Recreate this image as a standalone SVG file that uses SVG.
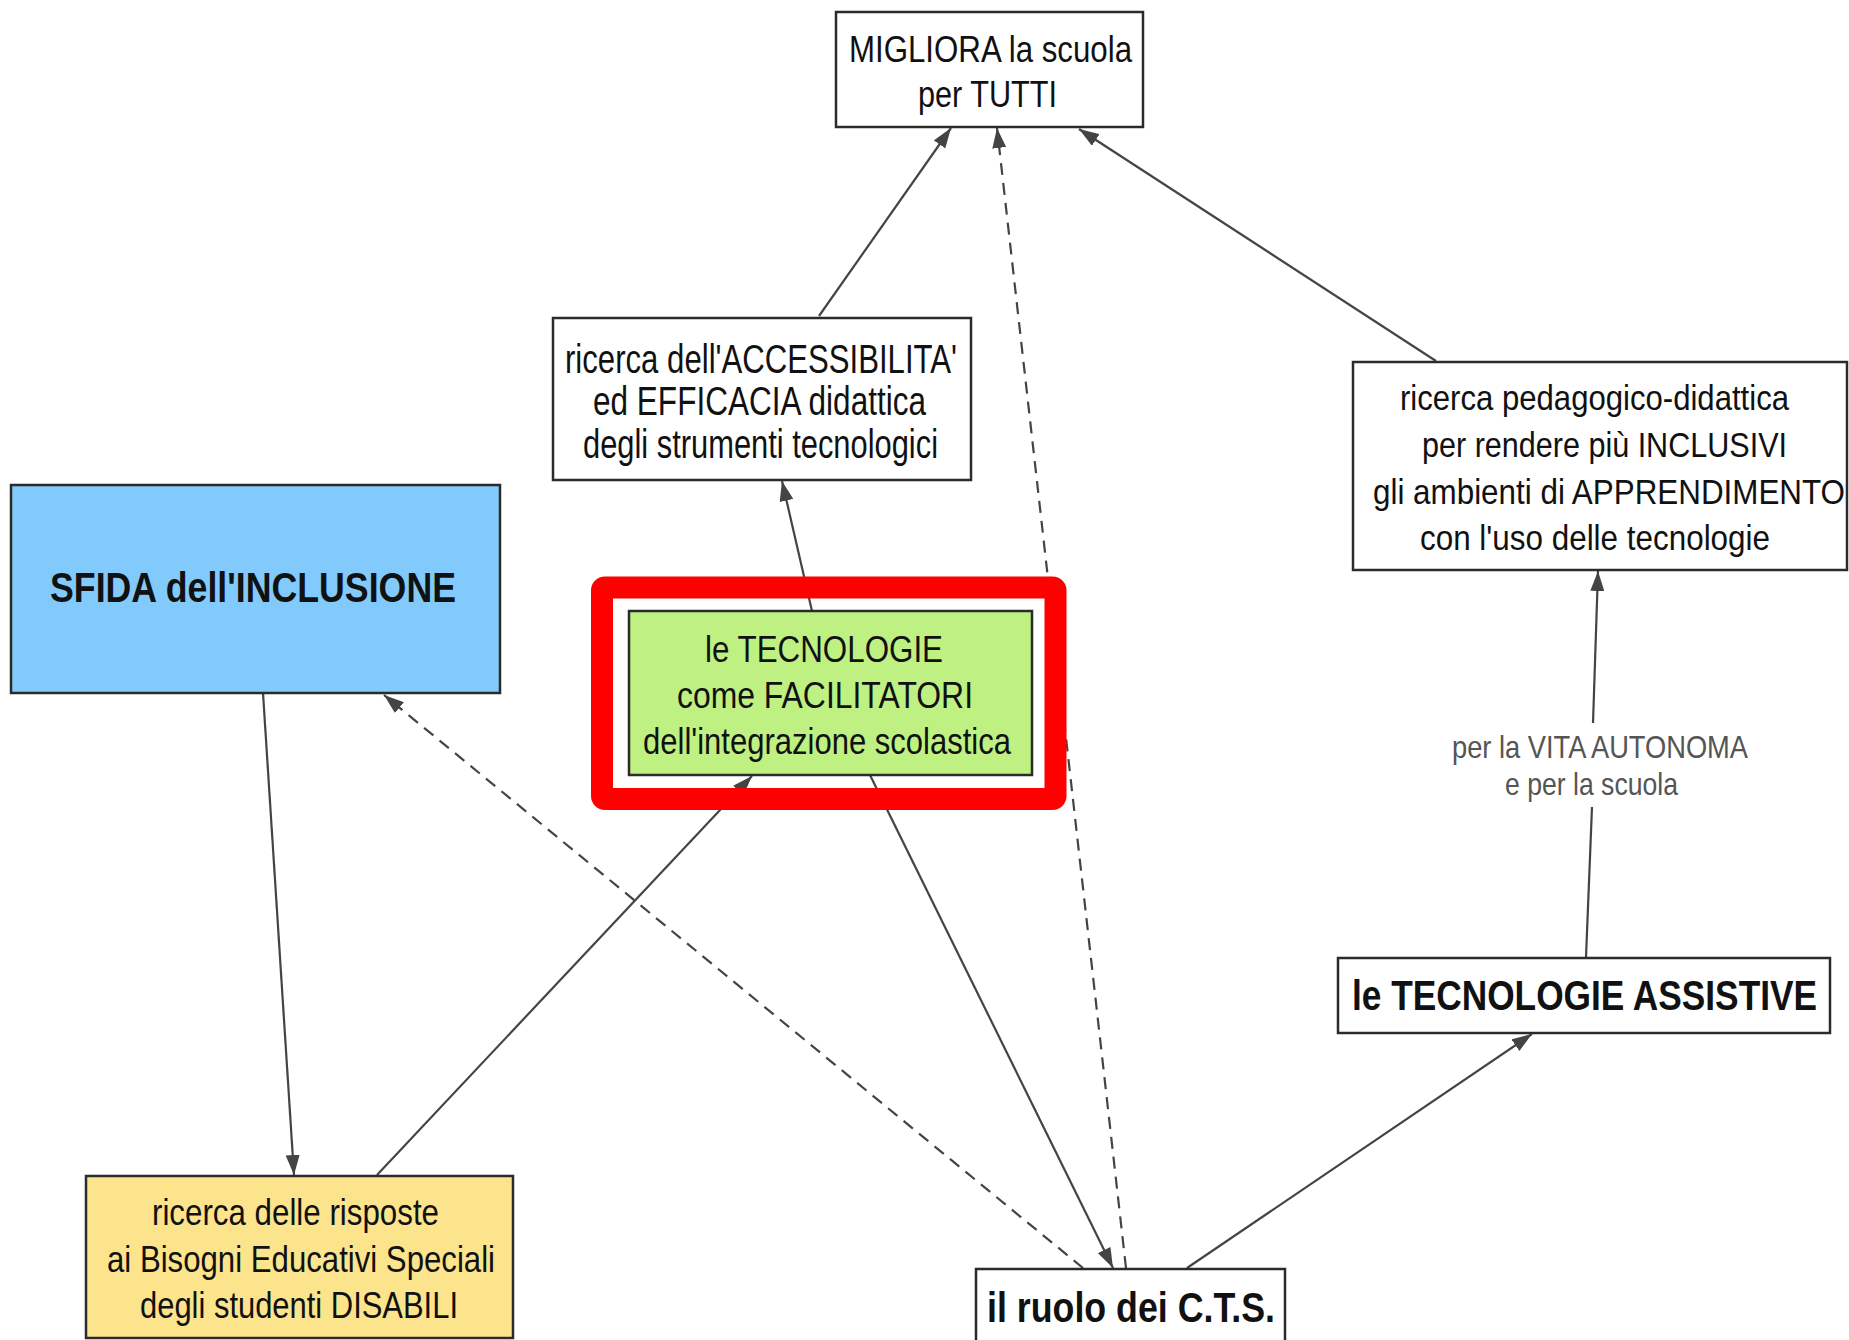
<svg xmlns="http://www.w3.org/2000/svg" width="1849" height="1340" viewBox="0 0 1849 1340">
<defs>
<style>
.box{stroke:#2b2b2b;stroke-width:2.5}
.t{font-family:"Liberation Sans",Arial,sans-serif;font-size:37px;fill:#111}
.b{font-family:"Liberation Sans",Arial,sans-serif;font-size:42px;font-weight:bold;fill:#111}
.lbl{font-family:"Liberation Sans",Arial,sans-serif;font-size:32px;fill:#555}
.c{stroke:#444;stroke-width:2.2;fill:none}
.d{stroke-dasharray:12 8}
</style>
<marker id="ah" markerUnits="userSpaceOnUse" markerWidth="20" markerHeight="14" refX="20" refY="7" orient="auto">
<path d="M0,0 L20,7 L0,14 z" fill="#444"/>
</marker>
</defs>
<rect width="1849" height="1340" fill="#fff"/>
<g id="connectors">
<line class="c" x1="819" y1="316" x2="951" y2="128" marker-end="url(#ah)"/>
<line class="c d" x1="1126" y1="1268" x2="997" y2="128" marker-end="url(#ah)"/>
<line class="c" x1="1436" y1="361" x2="1079" y2="129" marker-end="url(#ah)"/>
<line class="c" x1="812" y1="611" x2="782" y2="481" marker-end="url(#ah)"/>
<line class="c" x1="870" y1="775" x2="1113" y2="1268" marker-end="url(#ah)"/>
<line class="c" x1="377" y1="1175" x2="752" y2="776" marker-end="url(#ah)"/>
<line class="c" x1="263" y1="693" x2="294" y2="1175" marker-end="url(#ah)"/>
<line class="c d" x1="1083" y1="1268" x2="384" y2="695" marker-end="url(#ah)"/>
<line class="c" x1="1187" y1="1268" x2="1532" y2="1034" marker-end="url(#ah)"/>
<line class="c" x1="1586" y1="957" x2="1592" y2="807"/>
<line class="c" x1="1593" y1="723" x2="1598" y2="571" marker-end="url(#ah)"/>
<text class="lbl" x="1452" y="758" textLength="296" lengthAdjust="spacingAndGlyphs">per la VITA AUTONOMA</text>
<text class="lbl" x="1505" y="795" textLength="173" lengthAdjust="spacingAndGlyphs">e per la scuola</text>
</g>
<g id="migliora">
<rect class="box" x="836" y="12" width="307" height="115" fill="#fff"/>
<text class="t" x="849" y="62" textLength="283" lengthAdjust="spacingAndGlyphs">MIGLIORA la scuola</text>
<text class="t" x="918" y="107" textLength="139" lengthAdjust="spacingAndGlyphs">per TUTTI</text>
</g>
<g id="accessibilita">
<rect class="box" x="553" y="318" width="418" height="162" fill="#fff"/>
<text class="t" style="font-size:40px" x="565" y="373" textLength="392" lengthAdjust="spacingAndGlyphs">ricerca dell'ACCESSIBILITA'</text>
<text class="t" style="font-size:40px" x="593" y="415" textLength="333" lengthAdjust="spacingAndGlyphs">ed EFFICACIA didattica</text>
<text class="t" style="font-size:40px" x="583" y="458" textLength="355" lengthAdjust="spacingAndGlyphs">degli strumenti tecnologici</text>
</g>
<g id="pedagogico">
<rect class="box" x="1353" y="362" width="494" height="208" fill="#fff"/>
<text class="t" style="font-size:35px" x="1400" y="410" textLength="389" lengthAdjust="spacingAndGlyphs">ricerca pedagogico-didattica</text>
<text class="t" style="font-size:35px" x="1422" y="457" textLength="365" lengthAdjust="spacingAndGlyphs">per rendere più INCLUSIVI</text>
<text class="t" style="font-size:35px" x="1373" y="504" textLength="472" lengthAdjust="spacingAndGlyphs">gli ambienti di APPRENDIMENTO</text>
<text class="t" style="font-size:35px" x="1420" y="550" textLength="350" lengthAdjust="spacingAndGlyphs">con l'uso delle tecnologie</text>
</g>
<g id="sfida">
<rect class="box" x="11" y="485" width="489" height="208" fill="#82CAFC"/>
<text class="b" x="50" y="602" textLength="406" lengthAdjust="spacingAndGlyphs">SFIDA dell'INCLUSIONE</text>
</g>
<g id="tecnologie-facilitatori">
<rect class="box" x="629" y="611" width="403" height="164" fill="#BEF082"/>
<text class="t" style="font-size:36px" x="705" y="662" textLength="238" lengthAdjust="spacingAndGlyphs">le TECNOLOGIE</text>
<text class="t" style="font-size:36px" x="677" y="708" textLength="296" lengthAdjust="spacingAndGlyphs">come FACILITATORI</text>
<text class="t" style="font-size:36px" x="643" y="754" textLength="368" lengthAdjust="spacingAndGlyphs">dell'integrazione scolastica</text>
<rect x="602" y="587.5" width="453.5" height="211.5" rx="3" fill="none" stroke="#ff0000" stroke-width="22"/>
</g>
<g id="risposte">
<rect class="box" x="86" y="1176" width="427" height="162" fill="#FCE48C"/>
<text class="t" style="font-size:36px" x="152" y="1225" textLength="287" lengthAdjust="spacingAndGlyphs">ricerca delle risposte</text>
<text class="t" style="font-size:36px" x="107" y="1272" textLength="388" lengthAdjust="spacingAndGlyphs">ai Bisogni Educativi Speciali</text>
<text class="t" style="font-size:36px" x="140" y="1318" textLength="318" lengthAdjust="spacingAndGlyphs">degli studenti DISABILI</text>
</g>
<g id="cts">
<rect class="box" x="976" y="1269" width="309" height="80" fill="#fff"/>
<text class="b" x="987" y="1322" textLength="288" lengthAdjust="spacingAndGlyphs">il ruolo dei C.T.S.</text>
</g>
<g id="assistive">
<rect class="box" x="1338" y="958" width="492" height="75" fill="#fff"/>
<text class="b" x="1352" y="1010" textLength="465" lengthAdjust="spacingAndGlyphs">le TECNOLOGIE ASSISTIVE</text>
</g>
</svg>
